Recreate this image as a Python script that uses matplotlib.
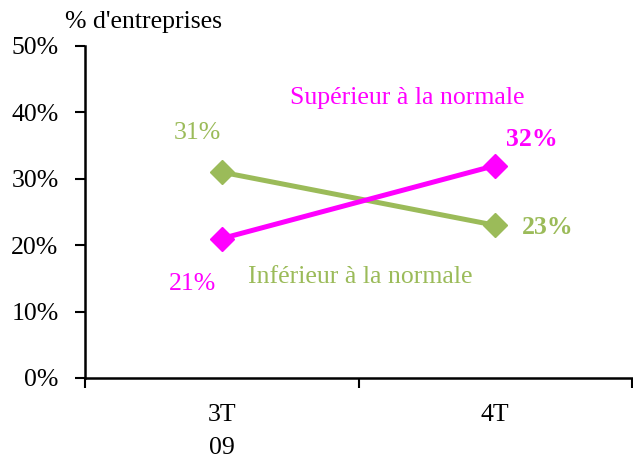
import matplotlib.pyplot as plt
from matplotlib.ticker import FuncFormatter

categories = ['3T\n09', '4T']
superieur = [21, 32]
inferieur = [31, 23]
y_ticks = [0, 10, 20, 30, 40, 50]

magenta = '#FF00FF'
green = '#9BBB59'

plt.rcParams['font.family'] = ['Liberation Serif', 'DejaVu Serif']
plt.rcParams['font.size'] = 18.5

fig = plt.figure(figsize=(6.33, 4.58), dpi=100)
ax = fig.add_axes([85 / 633, 1 - 378 / 458, 547 / 633, 332 / 458])

x = list(range(len(categories)))
ax.plot(x, inferieur, color=green, lw=3.6, marker='D', ms=12, zorder=3)
ax.plot(x, superieur, color=magenta, lw=3.6, marker='D', ms=12, zorder=3)

ax.set_xlim(-0.5, len(categories) - 0.5)
ax.set_ylim(0, 50)
ax.set_yticks(y_ticks)
ax.yaxis.set_major_formatter(FuncFormatter(lambda v, p: f'{v:.0f}%'))

# category boundaries as ticks, labels in the middle
ax.set_xticks([i - 0.5 for i in range(len(categories) + 1)])
ax.set_xticklabels([])
ax.set_xticks(x, minor=True)
ax.set_xticklabels(categories, minor=True, linespacing=1.65)
ax.tick_params(axis='x', which='minor', length=0, pad=19)
ax.tick_params(axis='x', which='major', length=7, width=1.5, direction='out')
ax.tick_params(axis='y', length=7, width=1.5, direction='out', pad=12)

for side in ['top', 'right']:
    ax.spines[side].set_visible(False)
for side in ['left', 'bottom']:
    ax.spines[side].set_linewidth(1.8)

# value labels
ax.annotate(f'{inferieur[0]}%', (0, inferieur[0]), xytext=(-24, 39), textcoords='offset pixels',
            ha='center', va='center', color=green)
ax.annotate(f'{superieur[0]}%', (0, superieur[0]), xytext=(-29, -45), textcoords='offset pixels',
            ha='center', va='center', color=magenta)
ax.annotate(f'{superieur[1]}%', (1, superieur[1]), xytext=(37, 26), textcoords='offset pixels',
            ha='center', va='center', color=magenta, fontweight='bold')
ax.annotate(f'{inferieur[1]}%', (1, inferieur[1]), xytext=(52, -2), textcoords='offset pixels',
            ha='center', va='center', color=green, fontweight='bold')

ax.text(0.59, 0.843, 'Supérieur à la normale', transform=ax.transAxes,
        ha='center', va='center', color=magenta)
ax.text(0.503, 0.304, 'Inférieur à la normale', transform=ax.transAxes,
        ha='center', va='center', color=green)

fig.text(65 / 633, 1 - 22 / 458, "% d'entreprises", ha='left', va='center')

fig.savefig('out.png', dpi=100)
